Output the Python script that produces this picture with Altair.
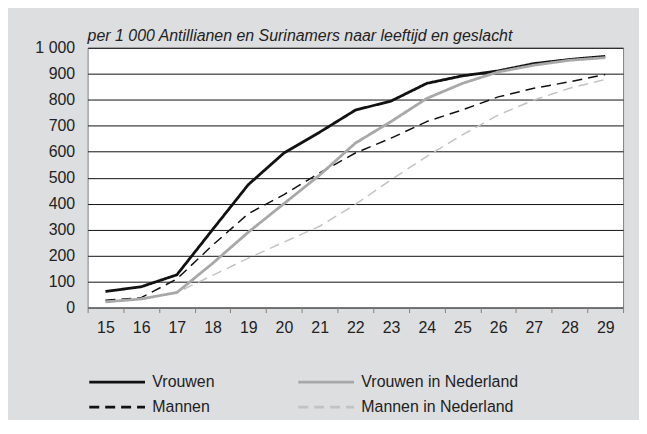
import altair as alt
import pandas as pd

ages = [str(a) for a in range(15, 30)]
vrouwen = [62, 80, 126, 300, 473, 595, 675, 760, 795, 863, 892, 911, 939, 955, 967]
vrouwen_nl = [22, 33, 58, 170, 290, 400, 510, 633, 716, 805, 863, 907, 933, 952, 962]
mannen = [28, 38, 110, 240, 361, 435, 518, 595, 652, 716, 761, 811, 844, 869, 897]
mannen_nl = [20, 35, 58, 124, 190, 252, 313, 397, 492, 582, 665, 741, 799, 844, 878]

# legend is laid out column by column: first column Vrouwen/Mannen
series_names = ["Vrouwen", "Mannen", "Vrouwen in Nederland", "Mannen in Nederland"]
series_values = [vrouwen, mannen, vrouwen_nl, mannen_nl]
solid_series = ["Vrouwen", "Vrouwen in Nederland"]

rows = []
for name, vals in zip(series_names, series_values):
    for a, v in zip(ages, vals):
        rows.append({"leeftijd": a, "waarde": v, "reeks": name})
df = pd.DataFrame(rows)

FONT = "Liberation Sans"

x_enc = alt.X("leeftijd:O", sort=ages,
              scale=alt.Scale(type="band", paddingInner=0, paddingOuter=0),
              axis=alt.Axis(title=None, labelAngle=0, tickBand="extent", grid=False,
                            domainColor="#808080", tickColor="#808080", tickSize=5,
                            labelPadding=7, labelFontSize=16, labelFont=FONT, labelColor="#222"))
y_enc = alt.Y("waarde:Q", scale=alt.Scale(domain=[0, 1000], nice=False),
              axis=alt.Axis(title=None, values=list(range(0, 1001, 100)),
                            labelExpr="datum.value == 1000 ? '1 000' : datum.label",
                            domain=False, ticks=False, labelPadding=13,
                            gridColor="#111", gridWidth=1, gridOpacity=1,
                            labelFontSize=16, labelFont=FONT, labelColor="#222"))
color_enc = alt.Color("reeks:N", sort=series_names,
                      scale=alt.Scale(domain=series_names,
                                      range=["#111111", "#111111", "#a8a8a8", "#c2c2c2"]),
                      legend=alt.Legend(title=None, orient="none", legendX=0, legendY=325,
                                        columns=2, columnPadding=78, rowPadding=6,
                                        symbolType="M-1,0H5", symbolSize=348,
                                        symbolStrokeWidth=2.8,
                                        labelFontSize=16, labelFont=FONT, labelColor="#222",
                                        labelOffset=43))
dash_enc = alt.StrokeDash("reeks:N", sort=series_names,
                          scale=alt.Scale(domain=series_names,
                                          range=[[1, 0], [10, 6], [1, 0], [10, 6]]),
                          legend=None)

base = alt.Chart(df).encode(x=x_enc, y=y_enc, color=color_enc, strokeDash=dash_enc)

solid = base.transform_filter(
    alt.FieldOneOfPredicate(field="reeks", oneOf=solid_series)
).mark_line(strokeWidth=2.8, strokeJoin="round")
dashed = base.transform_filter(
    ~alt.FieldOneOfPredicate(field="reeks", oneOf=solid_series)
).mark_line(strokeWidth=1.5, strokeJoin="round")

chart = alt.layer(dashed, solid).properties(
    width=538,
    height=261,
    title=alt.TitleParams(
        "per 1 000 Antillianen en Surinamers naar leeftijd en geslacht",
        anchor="start", frame="group", fontStyle="italic", fontWeight="normal",
        fontSize=16, font=FONT, color="#222", offset=-4),
    autosize=alt.AutoSizeParams(type="none"),
    padding={"left": 80, "top": 39, "right": 16, "bottom": 112},
    background="#dddee0",
).configure_view(
    stroke="#808080", strokeWidth=1, fill="white"
)

chart.save("out.html", embed_options={"renderer": "svg", "actions": False})
